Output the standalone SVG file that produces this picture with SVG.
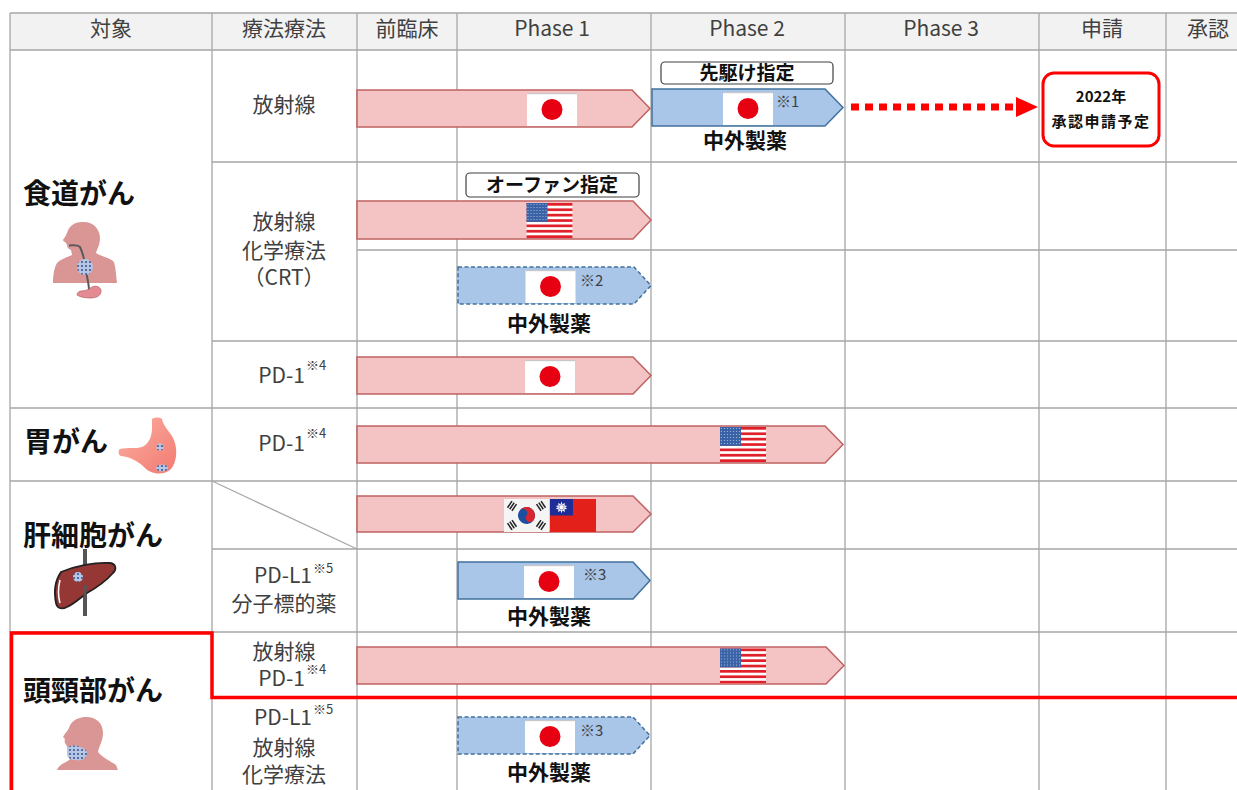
<svg xmlns="http://www.w3.org/2000/svg" xmlns:xlink="http://www.w3.org/1999/xlink" width="1237" height="790" viewBox="0 0 1237 790">
<style>
text{font-family:"Noto Sans CJK JP","Noto Sans",sans-serif}
.grid{stroke:#a6a6a6;stroke-width:1.3;fill:none}
.hd{font-size:21px;fill:#404040;text-anchor:middle}
.lb{font-size:21px;fill:#404040;text-anchor:middle}
.sup{font-size:13px;fill:#404040}
.note{font-size:15px;fill:#404040}
.dis{font-size:28px;font-weight:bold;fill:#111}
.co{font-size:21px;font-weight:bold;fill:#111;text-anchor:middle}
.tag{fill:#fff;stroke:#404040;stroke-width:1.2}
.tagt{font-size:19px;font-weight:bold;fill:#111;text-anchor:middle}
.pink{fill:#f4c4c4;stroke:#bf6262;stroke-width:1.5}
.blue{fill:#a9c5e8;stroke:#41719c;stroke-width:1.5}
.dash{stroke-dasharray:4 2.5}
.skin{fill:#d99694}
.app{font-size:15px;font-weight:bold;fill:#111;text-anchor:middle}
</style>
<defs>
<symbol id="jp" viewBox="0 0 50 33">
<rect width="50" height="33" fill="#fff"/>
<rect width="50" height="1.2" fill="#c8c8c8"/>
<circle cx="25" cy="16.5" r="10.5" fill="#e60012"/>
</symbol>
<pattern id="stars" width="3" height="3" patternUnits="userSpaceOnUse">
<rect width="3" height="3" fill="#3a62a6"/>
<circle cx="1.5" cy="1.5" r="0.6" fill="#a9bde0"/>
</pattern>
<symbol id="us" viewBox="0 0 46 35">
<rect width="46" height="35" fill="#fff"/>
<g fill="#e0202a">
<rect y="0" width="46" height="2.7"/><rect y="5.4" width="46" height="2.7"/><rect y="10.8" width="46" height="2.7"/><rect y="16.2" width="46" height="2.7"/><rect y="21.5" width="46" height="2.7"/><rect y="26.9" width="46" height="2.7"/><rect y="32.3" width="46" height="2.7"/>
</g>
<rect width="21" height="18.9" fill="url(#stars)"/>
</symbol>
<pattern id="cells" width="4" height="4" patternUnits="userSpaceOnUse">
<rect width="4" height="4" fill="#b7c6e4"/>
<circle cx="2" cy="2" r="1.1" fill="#3d5a96"/>
</pattern>
<linearGradient id="stom" x1="0" y1="0" x2="1" y2="1">
<stop offset="0" stop-color="#fbb0a4"/>
<stop offset="1" stop-color="#f27a70"/>
</linearGradient>
</defs>

<g id="table">
<rect x="10" y="13" width="1227" height="37" fill="#f2f2f2"/>
<path class="grid" d="M10,13H1237M10,50H1237M212,162H1237M357,250H1237M212,341H1237M10,408H1237M10,481H1237M212,549H1237M10,632H1237M212,697H1237"/>
<path class="grid" d="M10,13V790M212,13V790M357,13V790M457,13V790M651,13V790M845,13V790M1039,13V790M1166,13V790"/>
<path class="grid" d="M212,481L357,549"/>
</g>

<g id="header">
<text class="hd" x="111" y="36">対象</text>
<text class="hd" x="284" y="36">療法療法</text>
<text class="hd" x="407" y="36">前臨床</text>
<text class="hd" x="552" y="36">Phase 1</text>
<text class="hd" x="747" y="36">Phase 2</text>
<text class="hd" x="941" y="36">Phase 3</text>
<text class="hd" x="1102" y="36">申請</text>
<text class="hd" x="1187" y="36" style="text-anchor:start">承認</text>
</g>

<g id="esophageal">
<text class="dis" x="23" y="204">食道がん</text>
<g id="icon-esophagus">
<path class="skin" d="M82,222 C92,221 100,228 100,238 C100,245 97,249 96,253 C102,257 111,258 114,262 C116,269 116,276 117,283 L53,283 C53,276 54,268 57,263 C61,259 68,257 72,255 L71,250 C68,249 67,247 67,245 L66,243 C65,242 63,241 63,240 C64,238 66,236 67,233 C69,226 74,222 82,222 Z"/>
<path d="M69,245.5 C74,245 78,245 80,247 C84,256 86,266 87,276 C88,282 89,286 89,290" fill="none" stroke="#5a5a5a" stroke-width="2"/>
<path d="M81,291 C85,291 88,290 92,287 C96,285 101,287 101,291 C101,296 96,298 90,298 C85,298 80,297 77,295 C77,293 79,291 81,291 Z" fill="#e48a92" stroke="#b55a63" stroke-width="0.7"/>
<circle cx="85" cy="267" r="8" fill="url(#cells)"/>
</g>
<text class="lb" x="284" y="112">放射線</text>
<text class="lb" x="284" y="229">放射線</text>
<text class="lb" x="284" y="258">化学療法</text>
<text class="lb" x="284" y="285">（CRT）</text>
<text class="lb" x="305" y="383" style="text-anchor:end">PD-1</text>
<text class="sup" x="306" y="370">※4</text>

<polygon class="pink" points="357,90 632,90 650,108.5 632,127 357,127"/>
<use xlink:href="#jp" href="#jp" x="527" y="93" width="50" height="33"/>

<rect class="tag" x="661" y="62" width="172" height="22" rx="4"/>
<text class="tagt" x="747" y="80">先駆け指定</text>
<polygon class="blue" points="652,89 825,89 843,107.5 825,126 652,126"/>
<use xlink:href="#jp" href="#jp" x="723" y="92" width="50" height="33"/>
<text class="note" x="776" y="107">※1</text>
<text class="co" x="745" y="148">中外製薬</text>

<rect x="1043" y="73" width="116" height="73" rx="11" fill="#fff" stroke="#ff0000" stroke-width="3"/>
<text class="app" x="1101" y="102">2022年</text>
<text class="app" x="1101" y="127" style="letter-spacing:1.5px">承認申請予定</text>

<rect class="tag" x="466" y="173" width="173" height="24" rx="4"/>
<text class="tagt" x="552" y="192">オーファン指定</text>
<polygon class="pink" points="357,201 633,201 651,220 633,239 357,239"/>
<use xlink:href="#us" href="#us" x="526" y="203" width="47" height="35"/>

<polygon class="blue dash" points="458,267 634,267 651,285.5 634,304 458,304"/>
<use xlink:href="#jp" href="#jp" x="525" y="270" width="51" height="33"/>
<text class="note" x="580" y="286">※2</text>
<text class="co" x="549" y="331">中外製薬</text>

<polygon class="pink" points="357,357 633,357 651,375.5 633,394 357,394"/>
<use xlink:href="#jp" href="#jp" x="525" y="360" width="50" height="33"/>
</g>

<g id="gastric">
<text class="dis" x="24" y="452">胃がん</text>
<g id="icon-stomach">
<path d="M120,449 C128,447 136,449 142,447 C149,444 152,436 152,428 L152,419 C155,417 160,417 162,419 C163,425 168,430 172,436 C178,446 178,462 170,470 C162,476 150,474 144,467 C138,461 130,457 121,456 C118,455 118,450 120,449 Z" fill="url(#stom)"/>
<circle cx="160" cy="447" r="3.5" fill="url(#cells)"/>
<ellipse cx="162" cy="468" rx="6" ry="3.5" fill="url(#cells)"/>
</g>
<text class="lb" x="305" y="451" style="text-anchor:end">PD-1</text>
<text class="sup" x="306" y="438">※4</text>
<polygon class="pink" points="357,426 825,426 843,444.5 825,463 357,463"/>
<use xlink:href="#us" href="#us" x="720" y="427" width="46" height="35"/>
</g>

<g id="liver">
<text class="dis" x="23" y="546">肝細胞がん</text>
<g id="icon-liver">
<path d="M85,549 V616" stroke="#555" stroke-width="4"/>
<path d="M61,572 C75,566 95,562 110,563 C116,564 117,569 113,573 C106,581 96,588 87,593 C80,598 74,604 67,607 C61,610 57,608 56,603 C54,593 54,582 61,572 Z" fill="#953735" stroke="#222" stroke-width="1.8"/>
<path d="M60,580 C58,588 58,596 60,603" fill="none" stroke="#fff" stroke-width="1.5"/>
<circle cx="78" cy="577" r="5" fill="url(#cells)"/>
<path d="M85,585 V600" stroke="#555" stroke-width="3"/>
</g>
<polygon class="pink" points="357,496 633,496 651,514 633,532 357,532"/>
<g id="flag-kr">
<rect x="504" y="499" width="45" height="33" fill="#f5f5f5"/>
<g transform="rotate(34 526.5 515.5)">
<circle cx="526.5" cy="515.5" r="8.5" fill="#1d4ea0"/>
<path d="M518,515.5 A8.5,8.5 0 0 1 535,515.5 A4.25,4.25 0 0 1 526.5,515.5 A4.25,4.25 0 0 0 518,515.5 Z" fill="#d7262e"/>
</g>
<g fill="#222">
<g transform="rotate(-56 512 506)"><rect x="508" y="502.5" width="8" height="1.5"/><rect x="508" y="505.2" width="8" height="1.5"/><rect x="508" y="507.9" width="8" height="1.5"/></g>
<g transform="rotate(56 541 506)"><rect x="537" y="502.5" width="8" height="1.5"/><rect x="537" y="505.2" width="8" height="1.5"/><rect x="537" y="507.9" width="8" height="1.5"/></g>
<g transform="rotate(56 512 525)"><rect x="508" y="521.5" width="8" height="1.5"/><rect x="508" y="524.2" width="8" height="1.5"/><rect x="508" y="526.9" width="8" height="1.5"/></g>
<g transform="rotate(-56 541 525)"><rect x="537" y="521.5" width="8" height="1.5"/><rect x="537" y="524.2" width="8" height="1.5"/><rect x="537" y="526.9" width="8" height="1.5"/></g>
</g>
</g>
<g id="flag-tw">
<rect x="550" y="499" width="46" height="33" fill="#e3211a"/>
<rect x="550" y="499" width="23" height="16.5" fill="#1f2e96"/>
<polygon fill="#fff" points="561.5,501.5 562.4,504.2 564.9,502.9 564.4,505.6 567.2,505.9 565.1,507.3 567.2,509 564.4,509.2 564.9,512 562.4,510.6 561.5,513.2 560.6,510.6 558.1,512 558.6,509.2 555.8,509 557.9,507.3 555.8,505.9 558.6,505.6 558.1,502.9 560.6,504.2"/>
<circle cx="561.5" cy="507.3" r="2.6" fill="#fff" stroke="#1f2e96" stroke-width="0.5"/>
</g>

<text class="lb" x="312" y="583" style="text-anchor:end">PD-L1</text>
<text class="sup" x="313" y="573">※5</text>
<text class="lb" x="284" y="611">分子標的薬</text>
<polygon class="blue" points="458,562 633,562 650,580.5 633,599 458,599"/>
<use xlink:href="#jp" href="#jp" x="524" y="565" width="50" height="33"/>
<text class="note" x="583" y="580">※3</text>
<text class="co" x="549" y="624">中外製薬</text>
</g>

<g id="headneck">
<text class="dis" x="23" y="701">頭頸部がん</text>
<g id="icon-head">
<path class="skin" d="M84,717 C95,716 103,722 103,733 C103,741 99,746 98,752 C103,758 112,762 116,765 L118,770 L57,770 C58,767 60,765 64,763 C68,761 71,759 72,756 C69,753 67,750 67,746 C65,744 64,741 65,739 L63,737 C64,734 67,732 69,728 C71,721 77,718 84,717 Z"/>
<path d="M67,748 C70,745 76,745 80,747 C85,748 88,751 87,755 C86,759 81,761 76,760 C71,760 67,758 67,754 Z" fill="url(#cells)"/>
</g>
<text class="lb" x="284" y="659">放射線</text>
<text class="lb" x="305" y="686" style="text-anchor:end">PD-1</text>
<text class="sup" x="306" y="674">※4</text>
<polygon class="pink" points="357,647 826,647 844,665.5 826,684 357,684"/>
<use xlink:href="#us" href="#us" x="720" y="648" width="46" height="36"/>

<text class="lb" x="312" y="725" style="text-anchor:end">PD-L1</text>
<text class="sup" x="313" y="714">※5</text>
<text class="lb" x="284" y="755">放射線</text>
<text class="lb" x="284" y="782">化学療法</text>
<polygon class="blue dash" points="458,717 633,717 650,735.5 633,754 458,754"/>
<use xlink:href="#jp" href="#jp" x="525" y="720" width="50" height="33"/>
<text class="note" x="580" y="736">※3</text>
<text class="co" x="549" y="780">中外製薬</text>
</g>

<g id="connectors">
<line x1="851" y1="107" x2="1016" y2="107" stroke="#ff0000" stroke-width="7" stroke-dasharray="8 6"/>
<polygon points="1016,97 1038,107 1016,117" fill="#ff0000"/>
</g>

<g id="highlight">
<path d="M1237,697.5 H212 V633 H11.5 V790" fill="none" stroke="#ff0000" stroke-width="3.5"/>
</g>
</svg>
